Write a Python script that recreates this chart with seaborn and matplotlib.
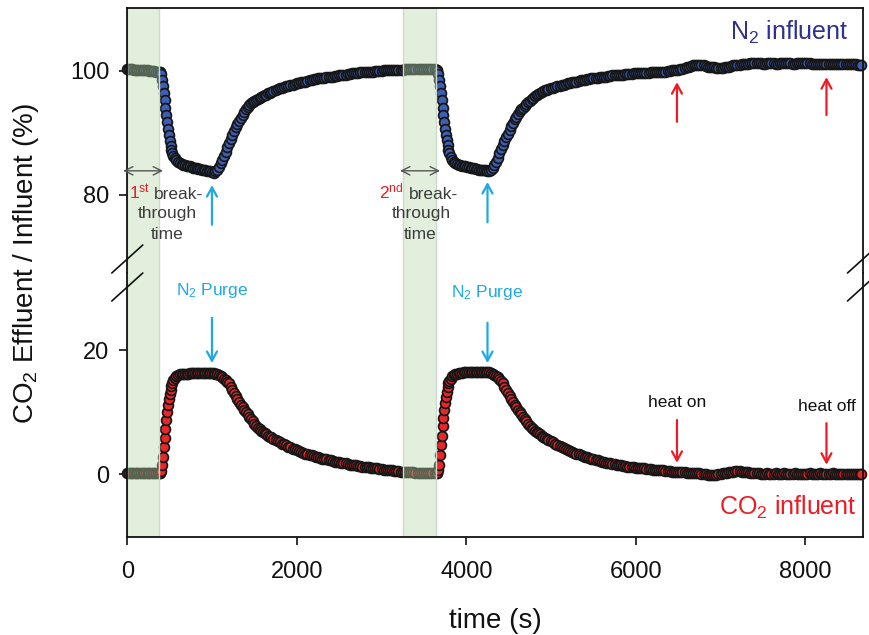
import matplotlib
matplotlib.use('Agg')
import matplotlib.pyplot as plt
from matplotlib.lines import Line2D
import pandas as pd
import seaborn as sns

# sampling time (s); dense where the signal changes fast
time_s = [
    0, 20, 40, 60, 80, 100, 120, 140, 160, 180,
    200, 220, 240, 260, 280, 300, 320, 340, 360, 380,
    390, 400, 410, 420, 430, 440, 450, 460, 470, 480,
    490, 500, 510, 520, 530, 545, 560, 580, 600,
    620, 640, 660, 680, 700, 720, 740, 760, 780, 800,
    820, 840, 860, 880, 900, 920, 940, 960, 980, 1000,
    1020, 1040,
    1060, 1080, 1100, 1120, 1140, 1160, 1180, 1200, 1220, 1240,
    1260, 1280, 1300, 1320, 1340, 1360, 1380, 1400, 1420, 1440,
    1460, 1480, 1500, 1520, 1540, 1560, 1580, 1600, 1620, 1640,
    1660, 1680, 1700,
    1725, 1750, 1775, 1800, 1825, 1850, 1875, 1900, 1925, 1950,
    1975, 2000, 2025, 2050, 2075, 2100, 2125, 2150, 2175, 2200,
    2225, 2250, 2275, 2300, 2325, 2350, 2375, 2400, 2425, 2450,
    2475, 2500, 2525, 2550, 2575, 2600, 2625, 2650, 2675, 2700,
    2725, 2750, 2775, 2800, 2825, 2850, 2875, 2900, 2925, 2950,
    2975, 3000, 3025, 3050, 3075, 3100, 3125, 3150, 3175, 3200,
    3225, 3250, 3275, 3300, 3325, 3350, 3375, 3400, 3425, 3450,
    3475, 3500, 3525, 3550, 3575, 3600, 3625, 3650,
    3660, 3670, 3680, 3690, 3700, 3710, 3720, 3730, 3740, 3750,
    3760, 3770, 3780, 3790, 3800, 3815, 3830, 3850, 3870,
    3890, 3910, 3930, 3950, 3970, 3990, 4010, 4030, 4050, 4070,
    4090, 4110, 4130, 4150, 4170, 4190, 4210, 4230, 4250, 4270,
    4290, 4310,
    4330, 4350, 4370, 4390, 4410, 4430, 4450, 4470, 4490, 4510,
    4530, 4550, 4570, 4590, 4610, 4630, 4650, 4670, 4690, 4710,
    4730, 4750, 4770, 4790, 4810, 4830, 4850, 4870, 4890, 4910,
    4930, 4950, 4970,
    5000, 5025, 5050, 5075, 5100, 5125, 5150, 5175, 5200, 5225,
    5250, 5275, 5300, 5325, 5350, 5375, 5400, 5425, 5450, 5475,
    5500, 5525, 5550, 5575, 5600, 5625, 5650, 5675, 5700, 5725,
    5750, 5775, 5800, 5825, 5850, 5875, 5900, 5925, 5950, 5975,
    6000, 6025, 6050, 6075, 6100, 6125, 6150, 6175, 6200, 6225,
    6250, 6275, 6300, 6325, 6350, 6375, 6400, 6425, 6450, 6475,
    6500, 6525, 6550, 6575, 6600, 6625, 6650, 6675, 6700, 6725,
    6750, 6775, 6800, 6825, 6850, 6875, 6900, 6925, 6950, 6975,
    7000, 7025, 7050, 7075, 7100, 7125, 7150, 7175, 7200, 7225,
    7250, 7275, 7300, 7325, 7350, 7375, 7400, 7425, 7450, 7475,
    7500, 7525, 7550, 7575, 7600, 7625, 7650, 7675, 7700, 7725,
    7750, 7775, 7800, 7825, 7850, 7875, 7900, 7925, 7950, 7975,
    8000, 8025, 8050, 8075, 8100, 8125, 8150, 8175, 8200, 8225,
    8250, 8275, 8300, 8325, 8350, 8375, 8400, 8425, 8450, 8475,
    8500, 8525, 8550, 8575, 8600, 8625, 8650, 8660,
]

# N2 effluent / influent (%)
n2_pct = [
    100.3, 100.3, 100.3, 100.3, 100.2, 100.2, 100.2, 100.2, 100.2, 100.1,
    100.1, 100.1, 100.1, 100.0, 100.0, 100.0, 100.0, 99.9, 99.9, 99.9,
    99.8, 99.5, 98.6, 97.6, 96.5, 95.3, 94.1, 92.9, 91.7, 90.6,
    89.6, 88.7, 87.9, 87.3, 86.8, 86.3, 85.9, 85.6, 85.3,
    85.1, 85.0, 84.9, 84.8, 84.7, 84.6, 84.6, 84.5, 84.4, 84.4,
    84.3, 84.2, 84.2, 84.1, 84.0, 84.0, 83.9, 83.8, 83.8, 83.7,
    83.6, 83.8,
    84.1, 84.5, 85.1, 85.7, 86.3, 87.0, 87.7, 88.4, 89.1, 89.7,
    90.3, 90.9, 91.4, 91.9, 92.4, 92.9, 93.4, 93.8, 94.2, 94.5,
    94.8, 95.0, 95.2, 95.4, 95.5, 95.7, 95.8, 96.0, 96.1, 96.2,
    96.4, 96.5, 96.6,
    96.8, 96.9, 97.1, 97.2, 97.3, 97.4, 97.5, 97.6, 97.7, 97.8,
    97.9, 98.0, 98.1, 98.2, 98.2, 98.3, 98.4, 98.5, 98.6, 98.7,
    98.7, 98.8, 98.8, 98.9, 98.9, 99.0, 99.0, 99.1, 99.1, 99.2,
    99.2, 99.3, 99.3, 99.4, 99.4, 99.5, 99.5, 99.6, 99.6, 99.7,
    99.7, 99.8, 99.8, 99.8, 99.9, 99.9, 99.9, 99.9, 100.0, 100.0,
    100.0, 100.0, 100.1, 100.1, 100.1, 100.1, 100.2, 100.2, 100.2, 100.2,
    100.2, 100.2, 100.3, 100.3, 100.3, 100.3, 100.3, 100.3, 100.4, 100.4,
    100.4, 100.4, 100.4, 100.4, 100.4, 100.3, 100.3, 100.2,
    100.0, 99.5, 98.6, 97.6, 96.5, 95.3, 94.1, 92.9, 91.8, 90.7,
    89.7, 88.8, 88.0, 87.3, 86.8, 86.2, 85.7, 85.3, 85.1,
    85.0, 84.9, 84.8, 84.7, 84.7, 84.6, 84.5, 84.5, 84.4, 84.3,
    84.3, 84.2, 84.2, 84.1, 84.1, 84.0, 84.0, 84.0, 83.9, 83.9,
    84.1, 84.4,
    84.8, 85.4, 86.0, 86.7, 87.4, 88.1, 88.7, 89.3, 89.9, 90.5,
    91.1, 91.6, 92.2, 92.6, 93.1, 93.5, 93.8, 94.1, 94.4, 94.7,
    95.0, 95.2, 95.5, 95.7, 95.9, 96.1, 96.3, 96.5, 96.6, 96.8,
    96.9, 97.0, 97.1,
    97.2, 97.3, 97.4, 97.5, 97.6, 97.7, 97.8, 97.9, 98.0, 98.1,
    98.2, 98.3, 98.3, 98.4, 98.5, 98.6, 98.6, 98.7, 98.7, 98.8,
    98.8, 98.9, 98.9, 99.0, 99.0, 99.1, 99.1, 99.2, 99.2, 99.3,
    99.3, 99.4, 99.4, 99.4, 99.4, 99.5, 99.5, 99.5, 99.5, 99.6,
    99.6, 99.6, 99.6, 99.7, 99.7, 99.7, 99.7, 99.8, 99.8, 99.8,
    99.8, 99.9, 99.9, 99.9, 99.9, 100.0, 100.0, 100.1, 100.1, 100.2,
    100.2, 100.3, 100.4, 100.5, 100.6, 100.7, 100.8, 100.9, 101.0, 101.0,
    101.0, 101.0, 100.9, 100.8, 100.7, 100.7, 100.6, 100.6, 100.5, 100.5,
    100.5, 100.5, 100.6, 100.6, 100.7, 100.8, 100.9, 100.9, 101.0, 101.0,
    101.1, 101.1, 101.2, 101.2, 101.3, 101.3, 101.3, 101.3, 101.3, 101.3,
    101.2, 101.2, 101.3, 101.3, 101.3, 101.3, 101.2, 101.2, 101.3, 101.3,
    101.3, 101.3, 101.3, 101.3, 101.2, 101.2, 101.3, 101.3, 101.3, 101.3,
    101.3, 101.3, 101.3, 101.2, 101.2, 101.2, 101.2, 101.2, 101.2, 101.2,
    101.2, 101.2, 101.1, 101.1, 101.1, 101.1, 101.1, 101.1, 101.1, 101.1,
    101.1, 101.1, 101.1, 101.1, 101.1, 101.0, 101.0, 101.0,
]

# CO2 effluent / influent (%)
co2_pct = [
    0.1, 0.1, 0.1, 0.1, 0.1, 0.1, 0.1, 0.1, 0.1, 0.1,
    0.1, 0.1, 0.1, 0.1, 0.1, 0.1, 0.1, 0.1, 0.1, 0.1,
    0.2, 0.5, 1.5, 2.8, 4.3, 5.8, 7.3, 8.7, 10.0, 11.1,
    12.1, 12.9, 13.6, 14.2, 14.7, 15.2, 15.5, 15.8, 16.0,
    16.1, 16.1, 16.2, 16.2, 16.2, 16.2, 16.3, 16.3, 16.3, 16.3,
    16.3, 16.3, 16.3, 16.3, 16.3, 16.3, 16.3, 16.3, 16.3, 16.3,
    16.3, 16.2,
    16.1, 16.0, 15.8, 15.6, 15.4, 15.2, 14.9, 14.6, 14.1, 13.6,
    13.1, 12.6, 12.1, 11.6, 11.2, 10.8, 10.4, 10.0, 9.6, 9.2,
    8.8, 8.5, 8.1, 7.8, 7.5, 7.3, 7.0, 6.8, 6.6, 6.4,
    6.2, 6.0, 5.9,
    5.7, 5.5, 5.3, 5.1, 4.9, 4.8, 4.6, 4.4, 4.3, 4.1,
    4.0, 3.8, 3.7, 3.6, 3.4, 3.3, 3.2, 3.1, 3.0, 2.9,
    2.8, 2.7, 2.6, 2.5, 2.4, 2.4, 2.3, 2.2, 2.1, 2.0,
    2.0, 1.9, 1.8, 1.7, 1.7, 1.6, 1.5, 1.5, 1.4, 1.4,
    1.3, 1.3, 1.2, 1.2, 1.1, 1.1, 1.0, 1.0, 0.9, 0.9,
    0.8, 0.8, 0.7, 0.7, 0.6, 0.6, 0.6, 0.5, 0.5, 0.5,
    0.4, 0.4, 0.4, 0.3, 0.3, 0.3, 0.3, 0.2, 0.2, 0.2,
    0.2, 0.2, 0.1, 0.1, 0.1, 0.1, 0.1, 0.1,
    0.2, 0.6, 1.5, 3.0, 4.6, 6.2, 7.7, 9.1, 10.4, 11.5,
    12.5, 13.3, 14.0, 14.6, 15.0, 15.4, 15.8, 16.0, 16.2,
    16.2, 16.3, 16.3, 16.3, 16.4, 16.4, 16.4, 16.4, 16.4, 16.4,
    16.4, 16.4, 16.4, 16.4, 16.4, 16.4, 16.4, 16.4, 16.4, 16.4,
    16.3, 16.2,
    16.0, 15.8, 15.6, 15.3, 15.0, 14.6, 14.1, 13.6, 13.1, 12.6,
    12.1, 11.6, 11.2, 10.8, 10.4, 10.0, 9.6, 9.2, 8.8, 8.5,
    8.1, 7.8, 7.5, 7.3, 7.0, 6.8, 6.6, 6.4, 6.2, 6.0,
    5.8, 5.6, 5.5,
    5.3, 5.1, 4.9, 4.7, 4.5, 4.4, 4.2, 4.0, 3.9, 3.7,
    3.6, 3.4, 3.3, 3.2, 3.0, 2.9, 2.8, 2.7, 2.6, 2.5,
    2.4, 2.3, 2.2, 2.1, 2.0, 1.9, 1.8, 1.8, 1.7, 1.6,
    1.6, 1.5, 1.4, 1.4, 1.3, 1.3, 1.2, 1.2, 1.1, 1.1,
    1.0, 1.0, 0.9, 0.9, 0.9, 0.8, 0.8, 0.8, 0.7, 0.7,
    0.7, 0.6, 0.6, 0.6, 0.5, 0.5, 0.5, 0.4, 0.4, 0.4,
    0.3, 0.3, 0.3, 0.3, 0.2, 0.2, 0.2, 0.2, 0.1, 0.1,
    0.1, 0.0, 0.0, 0.0, -0.1, -0.1, -0.1, -0.1, -0.1, 0.0,
    0.0, 0.1, 0.1, 0.2, 0.3, 0.3, 0.4, 0.5, 0.5, 0.5,
    0.4, 0.4, 0.3, 0.3, 0.2, 0.2, 0.1, 0.1, 0.1, 0.0,
    0.0, 0.0, 0.1, 0.0, 0.0, 0.0, 0.1, 0.0, 0.0, 0.0,
    0.1, 0.0, 0.0, 0.0, 0.0, 0.1, 0.0, 0.0, 0.0, 0.0,
    0.0, 0.0, 0.1, 0.0, 0.0, 0.0, 0.0, 0.1, 0.0, 0.0,
    0.0, 0.0, 0.0, 0.1, 0.0, 0.0, 0.0, 0.0, 0.0, 0.0,
    0.0, 0.0, 0.0, 0.0, 0.0, 0.0, 0.0, 0.0,
]

# shaded breakthrough windows (s)
band_start = [0, 3255]
band_end = [378, 3648]

# event times (s)
purge_t = [999, 4250]
heat_t = [6486, 8250]

assert len(time_s) == len(n2_pct) == len(co2_pct)

BLUE_FILL = '#3f5fb5'
RED_FILL = '#e8272b'
EDGE = '#161616'
CYAN = '#1fa9e1'
RED = '#ed1c24'
GRAY = '#3c3c3c'
INK = '#111111'

sns.set_theme(style='ticks')
plt.rcParams['font.family'] = ['Liberation Sans', 'DejaVu Sans']
plt.rcParams['mathtext.fontset'] = 'custom'
plt.rcParams['mathtext.rm'] = 'Liberation Sans'
plt.rcParams['mathtext.it'] = 'Liberation Sans:italic'
plt.rcParams['mathtext.bf'] = 'Liberation Sans:bold'
plt.rcParams['text.color'] = INK
plt.rcParams['xtick.color'] = INK
plt.rcParams['ytick.color'] = INK
plt.rcParams['axes.edgecolor'] = INK

df = pd.DataFrame({'time': time_s, 'n2': n2_pct, 'co2': co2_pct})

W, H = 870, 635
fig = plt.figure(figsize=(W / 100, H / 100), dpi=100)
# pixel frame of the reference: x 127-863, top 8, break at 273, bottom 537
ax_top = fig.add_axes([127.3 / W, 1 - 273 / H, (863 - 127.3) / W, (273 - 8.3) / H])
ax_bot = fig.add_axes([127.3 / W, 1 - 537 / H, (863 - 127.3) / W, (537 - 273) / H], sharex=ax_top)

# heavy marker outlines: where samples crowd together the trace reads as a dark band
sns.scatterplot(data=df, x='time', y='n2', ax=ax_top, s=50, color=BLUE_FILL,
                edgecolor=EDGE, linewidth=1.25, zorder=2, clip_on=False, legend=False)
sns.scatterplot(data=df, x='time', y='co2', ax=ax_bot, s=50, color=RED_FILL,
                edgecolor=EDGE, linewidth=1.25, zorder=2, clip_on=False, legend=False)

for ax in (ax_top, ax_bot):
    for s, e in zip(band_start, band_end):
        ax.axvspan(s, e, facecolor=(0.72, 0.85, 0.67), edgecolor='none',
                   alpha=0.4, zorder=3)
        for edge_t in (s, e):
            ax.axvline(edge_t, color=(0.80, 0.86, 0.79), lw=1, zorder=3)
    for sp in ax.spines.values():
        sp.set_linewidth(1.3)
        sp.set_zorder(5)
    ax.tick_params(axis='both', direction='out', length=6, width=1.2, labelsize=17)
    ax.tick_params(axis='y', pad=7)
    ax.set_xlabel('')
    ax.set_ylabel('')

ax_top.set_xlim(0, 8681)
ax_top.set_ylim(67.42, 110.11)
ax_bot.set_ylim(-10.16, 32.42)
ax_top.set_yticks([80, 100])
ax_bot.set_yticks([0, 20])
ax_bot.set_xticks([0, 2000, 4000, 6000, 8000])
ax_bot.tick_params(axis='x', pad=11)
ax_top.spines['bottom'].set_visible(False)
ax_bot.spines['top'].set_visible(False)
ax_top.tick_params(axis='x', bottom=False, labelbottom=False)


def arrow(ax, t, y_tail, y_tip, color):
    ax.annotate('', xy=(t, y_tip), xytext=(t, y_tail), zorder=6,
                arrowprops=dict(arrowstyle='->,head_length=0.55,head_width=0.3',
                                color=color, lw=1.6, shrinkA=0, shrinkB=0,
                                mutation_scale=12))


# N2 purge and heating arrows
arrow(ax_top, purge_t[0], 75.2, 81.6, CYAN)
arrow(ax_top, purge_t[1], 75.6, 82.1, CYAN)
arrow(ax_bot, purge_t[0], 25.2, 17.9, CYAN)
arrow(ax_bot, purge_t[1], 24.4, 17.9, CYAN)
arrow(ax_top, heat_t[0], 91.8, 98.2, RED)
arrow(ax_top, heat_t[1], 92.9, 99.0, RED)
arrow(ax_bot, heat_t[0], 8.7, 1.8, RED)
arrow(ax_bot, heat_t[1], 8.2, 1.5, RED)

ax_bot.text(purge_t[0], 28.9, 'N$_2$ Purge', color=CYAN, fontsize=12.5,
            ha='center', va='baseline')
ax_bot.text(purge_t[1], 28.5, 'N$_2$ Purge', color=CYAN, fontsize=12.5,
            ha='center', va='baseline')
ax_bot.text(heat_t[0], 10.8, 'heat on', fontsize=12.5, ha='center', va='baseline')
ax_bot.text(heat_t[1], 10.2, 'heat off', fontsize=12.5, ha='center', va='baseline')

# breakthrough time markers
for t0, t1 in [(-50, 422), (3218, 3690)]:
    ax_top.annotate('', xy=(t1, 83.9), xytext=(t0, 83.9), annotation_clip=False, zorder=6,
                    arrowprops=dict(arrowstyle='<->,head_length=0.5,head_width=0.25',
                                    color='#555555', lw=1.0, shrinkA=0, shrinkB=0,
                                    mutation_scale=12))

ax_top.text(275, 79.4, '1$^{\\mathrm{st}}$', color=RED, fontsize=12.5, ha='right', va='baseline', zorder=6)
ax_top.text(310, 79.4, 'break-', color=GRAY, fontsize=12.5, ha='left', va='baseline', zorder=6)
ax_top.text(469, 76.3, 'through', color=GRAY, fontsize=12.5, ha='center', va='baseline', zorder=6)
ax_top.text(475, 72.9, 'time', color=GRAY, fontsize=12.5, ha='center', va='baseline', zorder=6)
ax_top.text(3265, 79.4, '2$^{\\mathrm{nd}}$', color=RED, fontsize=12.5, ha='right', va='baseline', zorder=6)
ax_top.text(3320, 79.4, 'break-', color=GRAY, fontsize=12.5, ha='left', va='baseline', zorder=6)
ax_top.text(3467, 76.3, 'through', color=GRAY, fontsize=12.5, ha='center', va='baseline', zorder=6)
ax_top.text(3454, 72.9, 'time', color=GRAY, fontsize=12.5, ha='center', va='baseline', zorder=6)

ax_top.text(8505, 105.0, 'N$_2$ influent', color='#2e3192', fontsize=18,
            ha='right', va='baseline')
ax_bot.text(8610, -6.6, 'CO$_2$ influent', color=RED, fontsize=18,
            ha='right', va='baseline')

# axis titles
fig.text(26 / W, 1 - 264 / H, 'CO$_2$ Effluent / Influent (%)', rotation=90,
         fontsize=20, ha='center', va='center')
fig.text(495 / W, 1 - 621 / H, 'time (s)', fontsize=20, ha='center', va='center')

# axis break marks on both spines
for xc in (127.3, 863):
    for yc in (259, 287):
        fig.add_artist(Line2D([(xc - 15.5) / W, (xc + 15.5) / W],
                              [1 - (yc + 14) / H, 1 - (yc - 14) / H],
                              color=INK, lw=1.2))

fig.savefig('out.png', dpi=100)
